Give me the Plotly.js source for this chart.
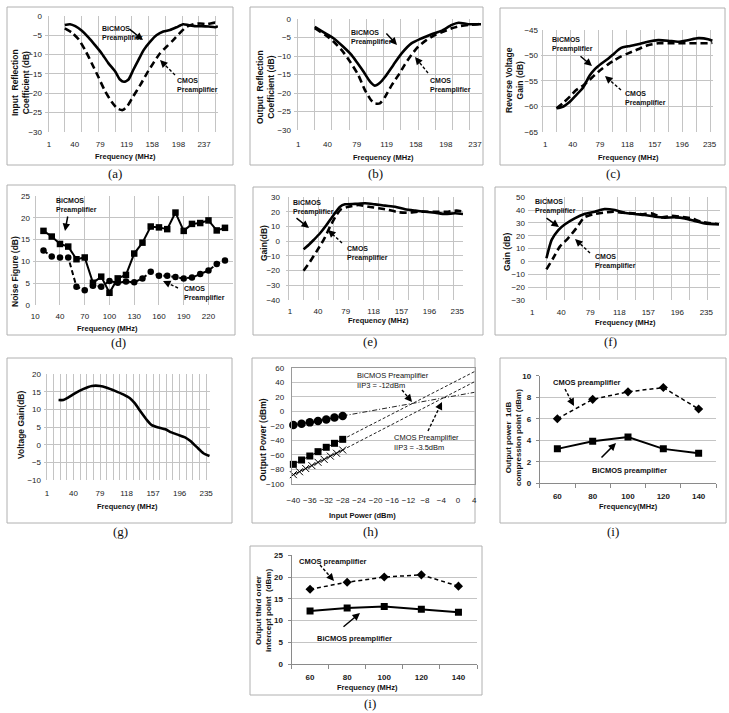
<!DOCTYPE html>
<html><head><meta charset="utf-8">
<script src="https://cdn.plot.ly/plotly-3.0.1.min.js"></script>
<style>html,body{margin:0;padding:0;background:#fff}#chart{width:729px;height:713px}</style>
</head><body><div id="chart"></div>
<script>
// ---------------- DATA ----------------
// (a) Input reflection coefficient
const a_xticks = [1,40,79,119,158,198,237];
const a_freq_bicmos = [25,33,41,51,61,71,81,91,102,109,115,122,129,137,145,155,165,175,185,195,205,213,223,233,244,254,258];
const a_bicmos = [-2.4,-2.2,-2.7,-3.9,-5.6,-7.6,-9.7,-12.2,-14.5,-16.5,-17.1,-16.5,-14.1,-11.5,-8.9,-6.7,-5.0,-4.1,-3.7,-3.0,-2.2,-2.4,-2.7,-2.7,-2.8,-3.0,-2.7];
const a_freq_cmos = [25,36,46,56,66,76,86,96,105,113,120,129,140,150,160,170,180,190,201,211,221,231,241,254,258];
const a_cmos = [-3.3,-4.4,-6.1,-8.9,-12.3,-15.8,-19.4,-22.2,-24.0,-24.4,-23.4,-20.9,-17.9,-14.9,-12.2,-9.7,-8.0,-6.3,-4.3,-2.8,-2.2,-2.0,-2.2,-1.8,-2.2];
// (b) Output reflection coefficient
const b_xticks = [1,40,79,119,158,198,237];
const b_freq_bicmos = [23,35,48,60,72,80,88,95,99,103,110,117,128,139,152,166,179,192,206,215,228,241,245];
const b_bicmos = [-2.1,-3.6,-5.2,-7.3,-9.7,-11.9,-14.2,-16.4,-17.4,-18.0,-17.2,-15.6,-12.4,-9.3,-6.6,-5.2,-4.1,-3.2,-1.6,-1.0,-1.4,-1.4,-1.4];
const b_freq_cmos = [23,37,48,59,70,81,90,98,103,110,117,126,135,143,152,161,172,184,195,206,217,228,241,245];
const b_cmos = [-2.5,-4.3,-6.1,-8.4,-11.5,-15.1,-19.2,-21.9,-22.8,-22.8,-21.0,-17.8,-15.1,-12.4,-9.7,-7.5,-5.7,-4.3,-3.4,-2.5,-1.9,-1.6,-1.4,-1.4];
// (c) Reverse voltage gain
const c_xticks = [1,40,79,118,157,196,235];
const c_freq = [17,26,36,45,55,64,71,81,90,100,109,119,133,147,162,176,190,204,219,233,239];
const c_bicmos = [-60.4,-60.1,-59.1,-57.8,-56.3,-54.0,-52.8,-51.6,-50.7,-49.5,-48.5,-48.2,-47.8,-47.3,-47.0,-47.1,-47.3,-47.0,-46.6,-46.8,-47.1];
const c_cmos = [-60.4,-59.4,-58.1,-56.8,-55.9,-54.8,-53.9,-52.7,-51.8,-50.9,-50.2,-49.6,-48.8,-48.0,-47.6,-47.6,-47.6,-47.6,-47.6,-47.6,-47.5];
// (d) Noise figure
const d_xticks = [10,40,70,100,130,160,190,220];
const d_freq = [20,30,40,50,60,70,80,90,100,110,120,130,140,150,160,170,180,190,200,210,220,230,240];
const d_bicmos = [17,15.7,14,13.4,10.5,10.9,5.1,6.5,2.8,6.1,6.9,11.8,14.3,18,17.8,17.4,21.2,17,18.6,18.8,19.4,17.1,17.7];
const d_cmos = [12.5,11.1,10.9,10.9,4.2,3.4,4.4,4.2,5.5,5.1,5.4,5.2,6.1,7.6,6.7,6.7,6.4,6.1,6.3,7.1,7.9,9.4,10.2];
// (e) Gain
const e_xticks = [1,40,79,118,157,196,235];
const e_freq_bicmos = [20,27,34,43,52,62,71,78,92,106,120,134,148,162,176,190,204,218,232,243];
const e_bicmos = [-5.5,-2.5,0.9,5.5,11.1,18,23.6,25.2,25.5,25.9,25.2,24.3,23.6,21.8,20.9,20.2,19.5,18.6,19.1,18.6];
const e_freq_cmos = [20,29,38,48,57,66,73,83,97,111,125,139,153,167,180,194,208,222,234,243];
const e_cmos = [-20,-13.9,-7,0.9,10,18,22,23.6,24.8,23.6,22.5,21.4,19.8,19.5,20.2,20.2,20.2,20.2,20.9,20.2];
// (f) Gain
const f_xticks = [1,40,79,118,157,196,235];
const f_freq_bicmos = [20,27,36,45,58,71,85,98,112,125,139,152,166,179,193,206,219,233,252];
const f_bicmos = [2.5,16.8,24.5,29,33.6,37,38.8,40.9,40.1,38,37,36.2,34.9,34.2,34.4,33.6,31.6,29.7,29];
const f_freq_cmos = [20,29,38,49,60,71,83,96,110,123,136,150,161,175,188,201,215,228,252];
const f_cmos = [-6.1,2.5,11.6,18,25.8,34.4,36.8,38,38.8,38,37.5,36.8,37.5,34.4,35.5,34.9,33.6,31,29];
// (g) Voltage gain
const g_xticks = [1,40,79,118,157,196,235];
const g_freq = [18,25,32,42,54,67,79,89,101,113,123,130,138,148,155,165,175,184,194,204,211,221,231,240];
const g_gain = [12.7,12.7,13.4,14.6,15.8,16.7,16.7,16.2,15.3,14.3,13.2,11.8,9.6,7,5.6,4.9,4.4,3.5,2.8,2.1,1.2,-0.6,-2.4,-3.2];
// (h) Two-tone test
const h_in_bicmos = [-40,-38,-36,-34,-32,-30,-28];
const h_bicmos_fund = [-19,-17.2,-15.4,-13.5,-11.3,-8.8,-6.5];
const h_bicmos_im3 = [-73.3,-67.3,-61.8,-55.8,-49.8,-44.3,-38.8];
const h_in_cmos = [-40,-38.5,-37,-35.5,-34,-32.5,-31,-29.5,-28];
const h_cmos_im3 = [-87.5,-83.5,-79,-75,-70.5,-66.5,-62,-58,-53.5];
const h_fit_in = [-28,4];
const h_fund_fit = [-6.5,26];
const h_bicmos_im3_fit = [-38.8,54.5];
const h_cmos_im3_fit = [-53.5,40.5];
// (i) Output P1dB
const i_freq = [60,80,100,120,140];
const i_cmos = [6.0,7.8,8.5,8.9,6.9];
const i_bicmos = [3.2,3.9,4.3,3.2,2.8];
// (j) OIP3
const j_freq = [60,80,100,120,140];
const j_cmos = [17.2,18.8,20.0,20.5,17.9];
const j_bicmos = [12.2,12.9,13.2,12.6,11.9];

// ---------------- LAYOUT HELPERS ----------------
const W=729,H=713;
const FN="'Liberation Sans',Arial,sans-serif";
const FS="'Liberation Sans',Arial,sans-serif";
const FSERIF="'Liberation Serif','Times New Roman',serif";
const GRID='#c4c4c4';
const X=p=>p/W, Y=p=>1-p/H;
const TICKF={family:FN,size:8,color:'#1a1a1a'};
const TICKFB={family:FN,size:8,color:'#1a1a1a',weight:'bold'};

const layout={width:W,height:H,margin:{l:0,r:0,t:0,b:0},paper_bgcolor:'#ffffff',
  plot_bgcolor:'rgba(0,0,0,0)',showlegend:false,annotations:[],shapes:[]};
const data=[];

function axes(n,g){
  const xs=n===1?'xaxis':'xaxis'+n, ys=n===1?'yaxis':'yaxis'+n;
  const xa=n===1?'x':'x'+n, ya=n===1?'y':'y'+n;
  layout[xs]=Object.assign({domain:[X(g.L),X(g.R)],range:g.xr,anchor:ya,showgrid:false,zeroline:false,
    showline:false,ticks:'',tickangle:0,tickfont:TICKF,ticklabelstandoff:g.xso||0,fixedrange:true},g.x||{});
  layout[ys]=Object.assign({domain:[Y(g.B),Y(g.T)],range:g.yr,anchor:xa,showgrid:true,gridcolor:GRID,gridwidth:1,
    zeroline:false,showline:false,ticks:'',tickmode:'linear',tick0:g.yr[0],dtick:g.ydt,tickfont:TICKF,
    ticklabelstandoff:g.yso||2,fixedrange:true},g.y||{});
  return {xaxis:xa,yaxis:ya};
}
function arrTicks(v){return {tickmode:'array',tickvals:v,ticktext:v.map(String)};}
function minorGrid(t0,dt){return {minor:{showgrid:true,gridcolor:GRID,gridwidth:1,tickmode:'linear',tick0:t0,dtick:dt,ticks:''}};}

function txt(x,y,text,font,o){
  layout.annotations.push(Object.assign({xref:'paper',yref:'paper',x:X(x),y:Y(y),text:text,showarrow:false,
    xanchor:'center',yanchor:'middle',align:'center',font:font},o||{}));
}
function xtitle(x,y,t){txt(x,y,'<b>'+t+'</b>',{family:FN,size:7.5,color:'#111'});}
function ytitle(x,y,t,s){txt(x,y,'<b>'+t+'</b>',{family:FS,size:s||8.5,color:'#111'},{textangle:-90});}
function note(x,y,t,bold,size){txt(x,y,bold?'<b>'+t+'</b>':t,{family:FN,size:size||7,color:'#111'},{xanchor:'left',align:'left'});}
function sarrow(x0,y0,x1,y1){
  layout.annotations.push({xref:'paper',yref:'paper',x:X(x1),y:Y(y1),ax:x0-x1,ay:y0-y1,axref:'pixel',ayref:'pixel',
    text:'',showarrow:true,arrowhead:2,arrowsize:1,arrowwidth:1.5,arrowcolor:'#000'});
}
function darrow(x0,y0,x1,y1){
  const dx=x1-x0,dy=y1-y0,L=Math.hypot(dx,dy),ux=dx/L,uy=dy/L,hl=6;
  const tx=x1-ux*hl,ty=y1-uy*hl;
  layout.shapes.push({type:'line',xref:'paper',yref:'paper',x0:X(x0),y0:Y(y0),x1:X(tx),y1:Y(ty),
    line:{color:'#000',width:1.4,dash:'3px,2px'}});
  layout.annotations.push({xref:'paper',yref:'paper',x:X(x1),y:Y(y1),ax:tx-x1,ay:ty-y1,axref:'pixel',ayref:'pixel',
    text:'',showarrow:true,arrowhead:2,arrowsize:1,arrowwidth:1.5,arrowcolor:'#000'});
}
function frame(x0,y0,x1,y1){
  layout.shapes.push({type:'rect',xref:'paper',yref:'paper',x0:X(x0),y0:Y(y0),x1:X(x1),y1:Y(y1),
    line:{color:'#b0b0b0',width:1},layer:'below'});
}
function plabel(x,y,t){txt(x,y,t,{family:FSERIF,size:13,color:'#111'});}

const SOLID={color:'#000',width:2.6,shape:'spline',smoothing:0.6};
const DASH={color:'#000',width:2.6,dash:'7px,4px',shape:'spline',smoothing:0.6};
function curve(ax,x,y,line){data.push(Object.assign({type:'scatter',mode:'lines',x:x,y:y,line:line,hoverinfo:'skip'},ax));}

// ---------------- PANELS ----------------
// (a)
let ax=axes(1,{L:45,R:218,T:15.7,B:131.7,xr:[-5.1,258.2],yr:[-30,0],ydt:5,xso:6,
  x:Object.assign(arrTicks(a_xticks),minorGrid(25,25.5))});
curve(ax,a_freq_bicmos,a_bicmos,SOLID); curve(ax,a_freq_cmos,a_cmos,DASH);
frame(7,7,233,165); xtitle(125,156,'Frequency (MHz)'); ytitle(21,83,'Input  Reflection<br>Coefficient (dB)');
note(100,33,'BiCMOS<br>Preamplifier',true); sarrow(128,28,143,40);
note(175,86,'CMOS<br>Preamplifier',true); darrow(175,75,160,60);
plabel(115,173,'(a)');

// (b)
ax=axes(2,{L:294,R:481.7,T:19,B:130,xr:[-4.7,245.9],yr:[-30,0],ydt:5,xso:8,
  x:Object.assign(arrTicks(b_xticks),minorGrid(23,23))});
curve(ax,b_freq_bicmos,b_bicmos,SOLID); curve(ax,b_freq_cmos,b_cmos,DASH);
frame(250,7,483,165); xtitle(383,157,'Frequency (MHz)'); ytitle(266,87,'Output  Reflection<br>Coefficient (dB)');
note(349,37.5,'BiCMOS<br>Preamplifier',true); sarrow(385,32,397,45);
note(428,85,'CMOS<br>Preamplifier',true); darrow(428,73,415,57);
plabel(375,173,'(b)');

// (c)
ax=axes(3,{L:541,R:713,T:30,B:131.7,xr:[-5.1,239.9],yr:[-65,-45],ydt:5,xso:6,
  x:Object.assign(arrTicks(c_xticks),minorGrid(17,20))});
curve(ax,c_freq,c_bicmos,SOLID); curve(ax,c_freq,c_cmos,DASH);
frame(500,8,725,165); xtitle(628,157,'Frequency (MHz)'); ytitle(514,80,'Reverse Voltage<br>Gain (dB)');
note(550,44,'BiCMOS<br>Preamplifier',true); sarrow(579,55,592,66);
note(623,98,'CMOS<br>Preamplifier',true); darrow(621,90,605,76);
plabel(613,173,'(c)');

// (d)
ax=axes(4,{L:33,R:233.3,T:196,B:305,xr:[7.3,250.1],yr:[0,25],ydt:5,xso:5,
  x:Object.assign(arrTicks(d_xticks),{showgrid:true,gridcolor:GRID})});
data.push(Object.assign({type:'scatter',mode:'lines+markers',x:d_freq,y:d_bicmos,line:{color:'#000',width:2},
  marker:{symbol:'square',size:6.5,color:'#000'},cliponaxis:false,hoverinfo:'skip'},ax));
data.push(Object.assign({type:'scatter',mode:'lines+markers',x:d_freq,y:d_cmos,line:{color:'#000',width:2,dash:'5px,3px'},
  marker:{symbol:'circle',size:6.5,color:'#000'},cliponaxis:false,hoverinfo:'skip'},ax));
frame(7,185,235,335); xtitle(107,328,'Frequency (MHz)'); ytitle(15,272,'Noise Figure (dB)');
note(54,206,'BiCMOS<br>Preamplifier',true); sarrow(68,215,65,231);
note(182,294,'CMOS<br>Preamplifier',true); darrow(178,288,163,281);
plabel(119,343,'(d)');

// (e)
ax=axes(5,{L:286,R:463.3,T:197.3,B:300,xr:[-4.6,243.4],yr:[-40,30],ydt:10,xso:5,yso:5,
  x:Object.assign(arrTicks(e_xticks),minorGrid(20,21))});
curve(ax,e_freq_bicmos,e_bicmos,SOLID); curve(ax,e_freq_cmos,e_cmos,DASH);
frame(253,187,483,335); xtitle(378,320,'Frequency (MHz)'); ytitle(264,243,'Gain(dB)');
note(291,207.5,'BiCMOS<br>Preamplifier',true); sarrow(295,217,309,228);
note(345,254,'CMOS<br>Preamplifier',true); darrow(342,243,328,230);
plabel(370,341,'(e)');

// (f)
ax=axes(6,{L:528,R:719.7,T:197.3,B:300,xr:[-4.8,253],yr:[-30,50],ydt:10,xso:6,
  x:Object.assign(arrTicks(f_xticks),minorGrid(20,24))});
curve(ax,f_freq_bicmos,f_bicmos,SOLID); curve(ax,f_freq_cmos,f_cmos,DASH);
frame(495,187,726,335); xtitle(625,322,'Frequency (MHz)'); ytitle(507,252,'Gain (dB)');
note(533,207,'BiCMOS<br>Preamplifier',true); sarrow(545,217,559,227);
note(593,262,'CMOS<br>Preamplifier',true); darrow(590,253,575,239);
plabel(610,341,'(f)');

// (g)
ax=axes(7,{L:44,R:210,T:374.3,B:480,xr:[-3.4,240.7],yr:[-10,20],ydt:5,xso:7,
  x:Object.assign(arrTicks(g_xticks),{showgrid:true,gridcolor:GRID},minorGrid(1,9.75))});
curve(ax,g_freq,g_gain,SOLID);
frame(7,358,232,523); xtitle(127,506,'Frequency (MHz)'); ytitle(21,425,'Voltage Gain(dB)');
plabel(120,531,'(g)');

// (h)
ax=axes(8,{L:291.7,R:475,T:367.7,B:483.7,xr:[-40.4,4.17],yr:[-100,60],ydt:20,xso:9,yso:5,
  x:{tickmode:'linear',tick0:-40,dtick:4,showline:true,mirror:true,linecolor:'#9a9a9a'},
  y:{showline:true,mirror:true,linecolor:'#9a9a9a'}});
data.push(Object.assign({type:'scatter',mode:'lines',x:h_fit_in,y:h_fund_fit,line:{color:'#222',width:1,dash:'5px,2px,1px,2px'},hoverinfo:'skip'},ax));
data.push(Object.assign({type:'scatter',mode:'lines',x:h_fit_in,y:h_bicmos_im3_fit,line:{color:'#222',width:1,dash:'3px,2px'},hoverinfo:'skip'},ax));
data.push(Object.assign({type:'scatter',mode:'lines',x:h_fit_in,y:h_cmos_im3_fit,line:{color:'#222',width:1,dash:'3px,2px'},hoverinfo:'skip'},ax));
data.push(Object.assign({type:'scatter',mode:'lines+markers',x:h_in_bicmos,y:h_bicmos_fund,line:{color:'#000',width:1},
  marker:{symbol:'circle',size:8.5,color:'#000'},cliponaxis:false,hoverinfo:'skip'},ax));
data.push(Object.assign({type:'scatter',mode:'lines+markers',x:h_in_bicmos,y:h_bicmos_im3,line:{color:'#000',width:1},
  marker:{symbol:'square',size:7,color:'#000'},cliponaxis:false,hoverinfo:'skip'},ax));
data.push(Object.assign({type:'scatter',mode:'lines+markers',x:h_in_cmos,y:h_cmos_im3,line:{color:'#000',width:1},
  marker:{symbol:'x-thin-open',size:7,color:'#000',line:{width:1,color:'#000'}},cliponaxis:false,hoverinfo:'skip'},ax));
frame(252,358,475,523); xtitle(362,515,'Input Power (dBm)'); ytitle(263,440,'Output Power (dBm)');
note(355,380,'BiCMOS Preamplifier<br>IIP3 = -12dBm',false,7.5); darrow(402,390,412,402);
note(392,442,'CMOS Preamplifier<br>IIP3 = -3.5dBm',false,7.5); darrow(428,431,442,402);
plabel(370,531,'(h)');

// (i)
ax=axes(9,{L:539.7,R:716.3,T:375.7,B:483.3,xr:[50,150],yr:[0,10],ydt:2,xso:5,yso:3,
  x:Object.assign(arrTicks(i_freq),{tickfont:TICKFB,showline:true,linecolor:'#8a8a8a',
    minor:{tickmode:'linear',tick0:50,dtick:20,ticks:'outside',ticklen:4,tickcolor:'#8a8a8a'}}),
  y:{tickfont:TICKFB,showline:true,linecolor:'#8a8a8a',ticks:'outside',ticklen:3,tickcolor:'#8a8a8a'}});
data.push(Object.assign({type:'scatter',mode:'lines+markers',x:i_freq,y:i_cmos,line:{color:'#000',width:1.5,dash:'4px,3px'},
  marker:{symbol:'diamond',size:7,color:'#000'},hoverinfo:'skip'},ax));
data.push(Object.assign({type:'scatter',mode:'lines+markers',x:i_freq,y:i_bicmos,line:{color:'#000',width:2},
  marker:{symbol:'square',size:7,color:'#000'},hoverinfo:'skip'},ax));
frame(500,358,726,523); xtitle(628,507,'Frequency(MHz)'); ytitle(513,438,'Output power  1dB<br>compression point (dBm)',8);
note(551,382,'CMOS preamplifier',true,7.5); darrow(565,389,574,406);
note(590,471,'BiCMOS preamplifier',true,7.5); sarrow(600,459,616,443);
plabel(613,531,'(i)');

// (j)
ax=axes(10,{L:291.5,R:477,T:555.3,B:664,xr:[50,150],yr:[0,25],ydt:5,xso:5,yso:3,
  x:Object.assign(arrTicks(j_freq),{tickfont:TICKFB,showline:true,linecolor:'#8a8a8a',
    minor:{tickmode:'linear',tick0:50,dtick:20,ticks:'outside',ticklen:4,tickcolor:'#8a8a8a'}}),
  y:{tickfont:TICKFB,showline:true,linecolor:'#8a8a8a',ticks:'outside',ticklen:3,tickcolor:'#8a8a8a'}});
data.push(Object.assign({type:'scatter',mode:'lines+markers',x:j_freq,y:j_cmos,line:{color:'#000',width:1.5,dash:'4px,3px'},
  marker:{symbol:'diamond',size:7,color:'#000'},hoverinfo:'skip'},ax));
data.push(Object.assign({type:'scatter',mode:'lines+markers',x:j_freq,y:j_bicmos,line:{color:'#000',width:2},
  marker:{symbol:'square',size:7,color:'#000'},hoverinfo:'skip'},ax));
frame(250,546,482,695); xtitle(367,687,'Frequency (MHz)'); ytitle(263,611,'Output third order<br>intercept point  (dBm)',8);
note(297,561,'CMOS preamplifier',true,7.5); darrow(320,565,334,581);
note(315,638,'BiCMOS preamplifier',true,7.5); sarrow(342,628,360,613);
plabel(370,703,'(i)');

Plotly.newPlot('chart',data,layout,{staticPlot:true,displayModeBar:false});
</script></body></html>
